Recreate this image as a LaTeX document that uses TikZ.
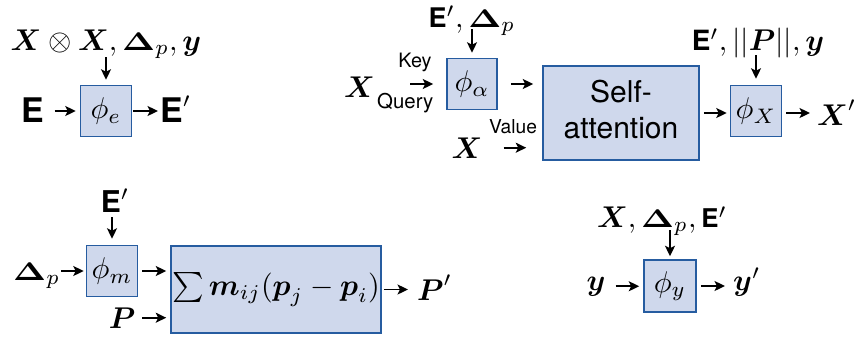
\documentclass[tikz,border=0pt]{standalone}
\usepackage{amsmath,amssymb}
\usepackage{graphicx}
\usepackage[no-math]{fontspec}
\newfontfamily\heros{TeX Gyre Heros}
\usetikzlibrary{arrows.meta}
\definecolor{boxfill}{RGB}{207,216,236}
\definecolor{boxline}{RGB}{38,92,160}
\newcommand{\Sc}[1]{\scalebox{3}{#1}}
\newcommand{\bE}[1][10]{\text{\heros\bfseries\fontsize{#1}{#1}\selectfont E}}
\newcommand{\bEp}[1][10]{\bE[#1]^{\raisebox{-1pt}{$\scriptstyle\prime$}}}
\newcommand{\bs}[1]{\boldsymbol{#1}}
\newcommand{\bD}{\mathord{\scalebox{1.15}[0.85]{$\boldsymbol{\Delta}$}}}
\begin{document}
\begin{tikzpicture}[x=1pt,y=-1pt,
  box/.style={draw=boxline,fill=boxfill,line width=1.5pt,inner sep=0pt},
  sq/.style={box,minimum width=51pt,minimum height=51pt},
  lbl/.style={inner sep=0pt},
  arr/.style={-{Stealth[length=10.5pt,width=10pt,inset=2.5pt]},line width=1.8pt}]
\useasboundingbox (0,0) rectangle (859,338);

% panel 1
\node[sq] (phie) at (106,111) {\Sc{$\phi_e$}};
\node[lbl,anchor=base] (inE) at (106,50) {\Sc{$\bs{X}\otimes\bs{X},\bD_p,\bs{y}$}};
\node[lbl,anchor=base] (E) at (33,122) {\Sc{$\bE[11.3]$}};
\node[lbl,anchor=base west] (Eo) at (160,122) {\Sc{$\bEp[11.3]$}};
\draw[arr,shorten <=7pt,shorten >=5pt] (phie.north |- inE.base) -- (phie.north);
\draw[arr,shorten <=10pt,shorten >=4pt] (E.east |- phie) -- (phie.west);
\draw[arr,shorten <=1pt,shorten >=2pt] (phie.east) -- (phie.east -| Eo.west);

% panel 2
\node[sq,minimum width=50pt] (phia) at (472,84) {\Sc{$\phi_\alpha$}};
\node[lbl,anchor=base] (inA) at (472,27) {\Sc{$\bEp[9],\bD_p$}};
\draw[arr,shorten <=2pt,shorten >=5pt] (phia.north |- inA.base) -- (phia.north);
\node[lbl,anchor=base east] (Xq) at (375,97) {\Sc{$\bs{X}$}};
\node[lbl,anchor=base west] (Qy) at (377,108) {\Sc{\heros\fontsize{6.8}{8}\selectfont Query}};
\node[lbl,anchor=base] (Key) at (415,67) {\Sc{\heros\fontsize{6.6}{8}\selectfont Key}};
\draw[arr,shorten <=35pt,shorten >=13pt] (Xq.east |- phia) -- (phia.west);
\node[box,minimum width=156pt,minimum height=94pt] (SA) at (621,113)
  {\Sc{\heros\fontsize{10}{12}\selectfont\begin{tabular}{@{}c@{}}Self-\\attention\end{tabular}}};
\draw[arr,shorten <=13pt,shorten >=9pt] (phia.east) -- (phia.east -| SA.west);
\node[lbl,anchor=base] (Val) at (513,133) {\Sc{\heros\fontsize{6.4}{8}\selectfont Value}};
\node[lbl,anchor=base] (Xv) at (467,158) {\Sc{$\bs{X}$}};
\draw[arr,shorten <=21pt,shorten >=16pt] (Xv.east) -- (Xv.east -| SA.west);
\node[sq] (phiX) at (756,111) {\Sc{$\phi_X$}};
\node[lbl,anchor=base] (inX) at (758,50) {\Sc{$\bEp[9.3],||\bs{P}||,\bs{y}$}};
\draw[arr,shorten <=5pt,shorten >=6pt] (phiX.north |- inX.base) -- (phiX.north);
\draw[arr,shorten <=4pt,shorten >=3pt] (SA.east) -- (SA.east -| phiX.west);
\node[lbl,anchor=base west] (Xo) at (817,125) {\Sc{$\bs{X}'$}};
\draw[arr,shorten <=4pt,shorten >=7pt] (phiX.east |- SA) -- (Xo.west |- SA);

% panel 3
\node[sq] (phim) at (112,271) {\Sc{$\phi_m$}};
\node[lbl,anchor=base] (inM) at (115,212) {\Sc{$\bEp[10]$}};
\draw[arr,shorten <=5pt,shorten >=6pt] (phim.north |- inM.base) -- (phim.north);
\node[lbl,anchor=base west] (Dp) at (13,280) {\Sc{$\bD_p$}};
\draw[arr,shorten <=1pt,shorten >=2pt] (Dp.east |- phim) -- (phim.west);
\node[box,minimum width=210pt,minimum height=87pt] (sum) at (276,289.5)
  {\Sc{$\sum\bs{m}_{ij}(\bs{p}_j-\bs{p}_i)$}};
\draw[arr,shorten <=4pt,shorten >=4pt] (phim.east) -- (phim.east -| sum.west);
\node[lbl,anchor=base] (P) at (122,328) {\Sc{$\bs{P}$}};
\draw[arr,shorten <=7pt,shorten >=4pt] (P.east) -- (P.east -| sum.west);
\node[lbl,anchor=base west] (Po) at (417,300) {\Sc{$\bs{P}'$}};
\draw[arr,shorten <=2pt,shorten >=9pt] (sum.east) -- (sum.east -| Po.west);

% panel 4
\node[sq,minimum width=52pt,minimum height=52pt] (phiy) at (670,286) {\Sc{$\phi_y$}};
\node[lbl,anchor=base] (inY) at (662,227) {\Sc{$\bs{X},\bD_p,\bEp[8.6]$}};
\draw[arr,shorten <=3pt,shorten >=3pt] (phiy.north |- inY.base) -- (phiy.north);
\node[lbl,anchor=base] (y) at (596,290) {\Sc{$\bs{y}$}};
\node[lbl,anchor=base west] (yo) at (733,290) {\Sc{$\bs{y}'$}};
\draw[arr,shorten <=10pt,shorten >=4pt] (y.east) -- (y.east -| phiy.west);
\draw[arr,shorten <=4pt,shorten >=8pt] (phiy.east) -- (phiy.east -| yo.west);
\end{tikzpicture}
\end{document}
